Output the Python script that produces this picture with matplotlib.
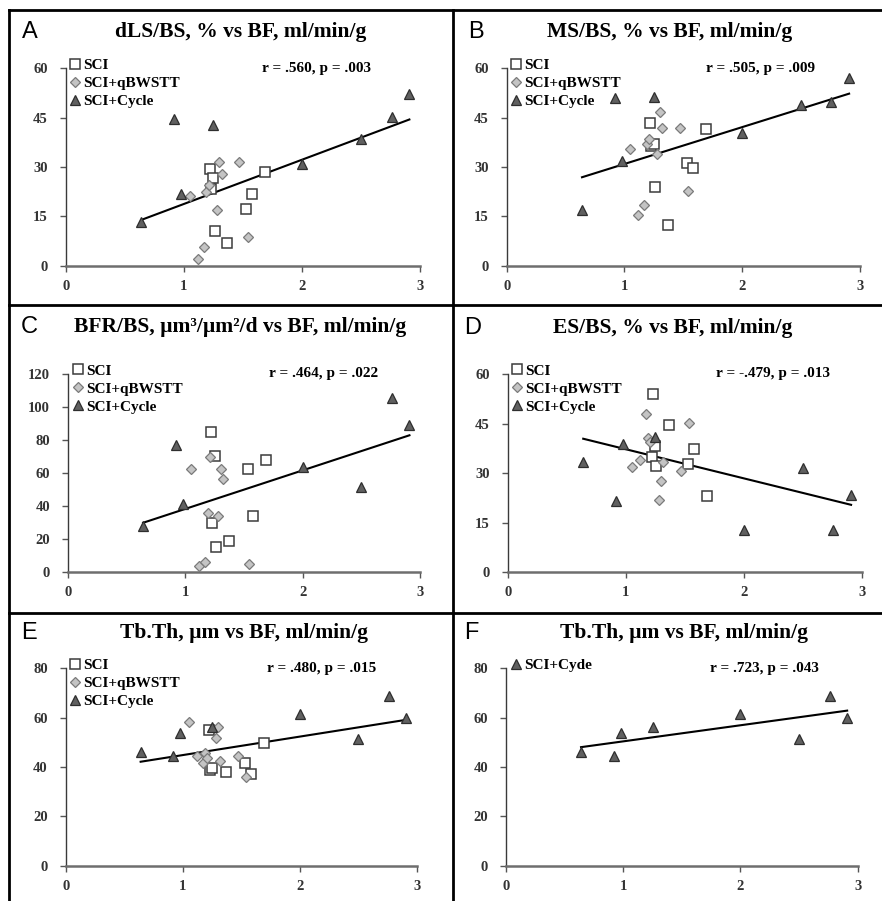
import matplotlib
matplotlib.use("Agg")
import matplotlib.pyplot as plt
from matplotlib.lines import Line2D
import numpy as np

# BF, ml/min/g for each group (same animals in every panel)
bf_sci = [1.22, 1.23, 1.25, 1.26, 1.37, 1.53, 1.58, 1.69]
bf_qbw = [1.05, 1.12, 1.17, 1.19, 1.21, 1.28, 1.30, 1.32, 1.47, 1.54]
bf_cyc = [0.64, 0.92, 0.98, 1.25, 2.00, 2.50, 2.76, 2.91]

nan = np.nan

# A: dLS/BS, %
dls_sci = [29.3, 23.2, 26.8, 10.6, 6.8, 17.1, 21.8, 28.4]
dls_qbw = [21.3, 2.0, 5.7, 22.4, 24.4, 16.8, 31.4, 27.8, 31.4, 8.8]
dls_cyc = [13.4, 44.6, 21.8, 42.9, 30.8, 38.4, 45.3, 52.3]

# B: MS/BS, %
ms_sci = [43.3, 36.5, 37.0, 24.0, 12.3, 31.2, 29.8, 41.5]
ms_qbw = [35.5, 15.4, 18.3, 37.0, 38.6, 34.1, 46.8, 42.0, 42.0, 22.8]
ms_cyc = [16.9, 51.1, 31.7, 51.4, 40.3, 48.9, 49.7, 57.1]

# C: BFR/BS
bfr_sci = [85.1, 30.0, 70.4, 15.5, 19.0, 62.7, 34.1, 67.9]
bfr_qbw = [62.5, 4.0, 6.0, 36.1, 70.0, 33.9, 62.7, 56.5, nan, 5.0]
bfr_cyc = [28.2, 77.2, 41.3, nan, 63.5, 51.4, 105.6, 89.3]

# D: ES/BS, %
es_sci = [35.0, 53.9, 38.2, 32.3, 44.6, 32.8, 37.2, 23.0]
es_qbw = [31.8, 33.9, 48.0, 40.7, 39.5, 21.9, 27.6, 33.4, 30.5, 45.1]
es_cyc = [33.3, 21.6, 38.8, 41.0, 12.8, 31.7, 12.8, 23.5]

# E/F: Tb.Th, um
tb_sci = [55.0, 38.8, 39.5, nan, 38.1, 41.8, 37.2, 49.9]
tb_qbw = [58.4, 44.6, 41.6, 45.5, 43.8, 51.8, 56.2, 42.3, 44.5, 35.8]
tb_cyc = [46.0, 44.5, 53.9, 56.1, 61.5, 51.2, 68.8, 60.0]

W, H = 882, 901
fig = plt.figure(figsize=(W / 100, H / 100), dpi=100)

serif = "Liberation Serif"
sans = "Liberation Sans"

panels = [
    # letter, title, ymax, yticks, data, stats, axes px (x0, x3, ybottom, ytop), title px, letter px, stats x, all groups
    ("A", "dLS/BS, % vs BF, ml/min/g", 60, [0, 15, 30, 45, 60],
     (dls_sci, dls_qbw, dls_cyc), "r = .560, p = .003",
     (65.7, 420, 265.7, 68.3), (241, 32), (22, 32), 0.709, True),
    ("B", "MS/BS, % vs BF, ml/min/g", 60, [0, 15, 30, 45, 60],
     (ms_sci, ms_qbw, ms_cyc), "r = .505, p = .009",
     (506.7, 859.7, 265.7, 68.3), (670, 32), (468, 32), 0.72, True),
    ("C", "BFR/BS, \u00b5m\u00b3/\u00b5m\u00b2/d vs BF, ml/min/g", 120, [0, 20, 40, 60, 80, 100, 120],
     (bfr_sci, bfr_qbw, bfr_cyc), "r = .464, p = .022",
     (68, 420, 572.3, 374), (240, 327), (21, 327), 0.727, True),
    ("D", "ES/BS, % vs BF, ml/min/g", 60, [0, 15, 30, 45, 60],
     (es_sci, es_qbw, es_cyc), "r = -.479, p = .013",
     (507.7, 861.7, 572.3, 374), (673, 328), (464, 328), 0.75, True),
    ("E", "Tb.Th, \u00b5m vs BF, ml/min/g", 80, [0, 20, 40, 60, 80],
     (tb_sci, tb_qbw, tb_cyc), "r = .480, p = .015",
     (65.7, 417, 865.7, 668.3), (244, 633), (21, 633), 0.729, True),
    ("F", "Tb.Th, \u00b5m vs BF, ml/min/g", 80, [0, 20, 40, 60, 80],
     (None, None, tb_cyc), "r = .723, p = .043",
     (506, 857.7, 865.7, 668.3), (684, 633), (464, 633), 0.736, False),
]

for letter, title, ymax, yticks, (ys, yq, yc), stats, (x0, x3, yb, yt), tpos, lpos, sx, all_groups in panels:
    ax = fig.add_axes([x0 / W, 1 - yb / H, (x3 - x0) / W, (yb - yt) / H])

    xs_all, ys_all = [], []
    if all_groups:
        ax.plot(bf_sci, ys, ls="none", marker="s", ms=7.0, mfc="white", mec="#3c3c3c",
                mew=1.1, label="SCI", clip_on=False, zorder=3)
        ax.plot(bf_qbw, yq, ls="none", marker="D", ms=5.0, mfc="#c4c4c4", mec="#7a7a7a",
                mew=0.9, label="SCI+qBWSTT", clip_on=False, zorder=3)
        xs_all += bf_sci + bf_qbw
        ys_all += ys + yq
    ax.plot(bf_cyc, yc, ls="none", marker="^", ms=7.5, mfc="#606060", mec="#2e2e2e",
            mew=0.9, label="SCI+Cycle" if all_groups else "SCI+Cyde", clip_on=False, zorder=3)
    xs_all += bf_cyc
    ys_all += yc

    # least squares trend line over all plotted points
    xa = np.array(xs_all)
    ya = np.array(ys_all)
    ok = ~np.isnan(ya)
    k, b = np.polyfit(xa[ok], ya[ok], 1)
    xl = np.array([xa[ok].min(), xa[ok].max()])
    ax.plot(xl, k * xl + b, color="black", lw=1.5, zorder=2)

    ax.set_xlim(0, 3)
    ax.set_ylim(0, ymax)
    ax.set_xticks([0, 1, 2, 3])
    ax.set_yticks(yticks)
    for s in ["top", "right"]:
        ax.spines[s].set_visible(False)
    ax.spines["left"].set_color("#3a3a3a")
    ax.spines["left"].set_linewidth(1.0)
    ax.spines["bottom"].set_color("#6e6e6e")
    ax.spines["bottom"].set_linewidth(1.8)
    ax.tick_params(axis="both", direction="out", length=4, width=1.0, color="#555555",
                   labelcolor="#333333", labelsize=10.5)
    ax.tick_params(axis="y", pad=9)
    ax.tick_params(axis="x", pad=6)
    for lab in ax.get_xticklabels() + ax.get_yticklabels():
        lab.set_fontfamily(serif)
        lab.set_fontweight("bold")

    ax.legend(loc="upper left", bbox_to_anchor=(0.014, 1.05), borderaxespad=0,
              frameon=False, handlelength=0.6, handletextpad=0.25,
              labelspacing=0.28, borderpad=0,
              prop={"family": serif, "weight": "bold", "size": 11})

    ax.text(sx, 1.0, stats, transform=ax.transAxes, ha="center", va="center",
            fontfamily=serif, fontweight="bold", fontsize=11)

    fig.text(tpos[0] / W, 1 - tpos[1] / H, title, ha="center", va="center",
             fontfamily=serif, fontweight="bold", fontsize=15.5)
    fig.text(lpos[0] / W, 1 - lpos[1] / H, letter, ha="left", va="center",
             fontfamily=sans, fontsize=17)

# panel frame lines
frame = [((9, 882), (10, 10)), ((9, 9), (10, 901)), ((453, 453), (10, 901)),
         ((9, 882), (305, 305)), ((9, 882), (613, 613))]
for (xa_, xb_), (ya_, yb_) in frame:
    fig.add_artist(Line2D([xa_ / W, xb_ / W], [1 - ya_ / H, 1 - yb_ / H],
                          color="black", lw=2.0, transform=fig.transFigure))

fig.savefig("out.png", dpi=100)
